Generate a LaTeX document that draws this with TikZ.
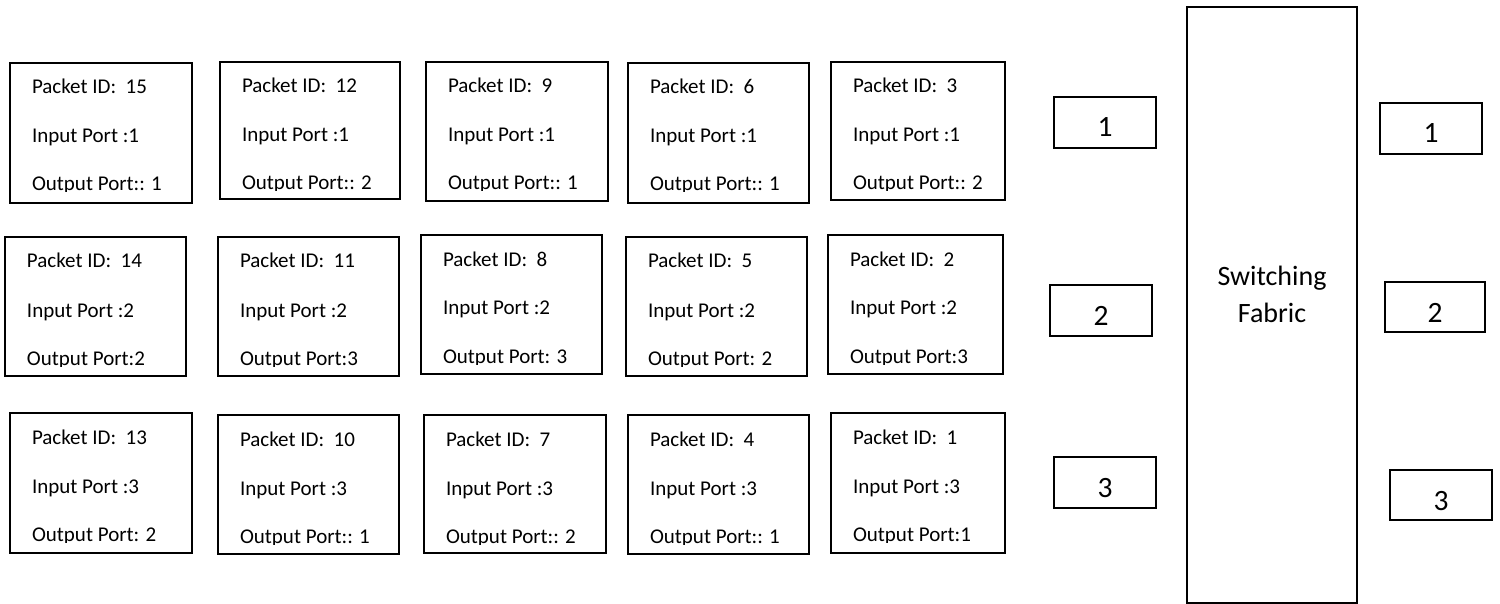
\documentclass[tikz,border=0pt]{standalone}
\usepackage{fontspec}
\setmainfont{Carlito}
\tikzset{
  pktbox/.style={draw, line width=2.8pt, inner sep=0pt, outer sep=0pt, anchor=north west},
  ptext/.style={anchor=base west, inner sep=0pt, outer sep=0pt, font=\fontsize{21}{24}\selectfont},
  ptnum/.style={anchor=base, inner sep=0pt, outer sep=0pt, font=\fontsize{29.5}{34}\selectfont},
  fabtext/.style={anchor=base, inner sep=0pt, outer sep=0pt, font=\fontsize{28}{34}\selectfont},
}
% packet queue entry: name, left, top, width, height, id, input port, output line
\newcommand\packetbox[8]{%
  \node[pktbox, minimum width=#4pt, minimum height=#5pt] (#1) at (#2,#3) {};
  \begin{scope}
    \clip (#2,#3) rectangle ({#2+#4},{#3+129});
    \node[ptext] (#1-id)  at ({#2+22},{#3+31})  {Packet ID:\ \ #6};
    \node[ptext] (#1-in)  at ({#2+22},{#3+80})  {Input Port :#7};
    \node[ptext] (#1-out) at ({#2+22},{#3+128}) {#8};
  \end{scope}}
% port box: name, left, top, width, height, number
\newcommand\portbox[6]{%
  \node[pktbox, minimum width=#4pt, minimum height=#5pt] (#1) at (#2,#3) {};
  \node[ptnum] (#1-t) at ({#2+#4/2},{#3+40}) {#6};}
\begin{document}
\begin{tikzpicture}[x=1pt,y=-1pt]
\useasboundingbox (0,0) rectangle (1500,604);

% input port 1 queue
\packetbox{p15}{10}{63}{182}{140}{15}{1}{Output Port:: 1}
\packetbox{p12}{220}{62}{180}{137}{12}{1}{Output Port:: 2}
\packetbox{p9}{426}{62}{182}{139}{9}{1}{Output Port:: 1}
\packetbox{p6}{628}{63}{181}{140}{6}{1}{Output Port:: 1}
\packetbox{p3}{831}{62}{174}{138}{3}{1}{Output Port:: 2}

% input port 2 queue
\packetbox{p14}{5}{237}{181}{139}{14}{2}{Output Port:2}
\packetbox{p11}{218}{237}{181}{139}{11}{2}{Output Port:3}
\packetbox{p8}{421}{235}{181}{139}{8}{2}{Output Port: 3}
\packetbox{p5}{626}{237}{181}{139}{5}{2}{Output Port: 2}
\packetbox{p2}{828}{235}{175}{139}{2}{2}{Output Port:3}

% input port 3 queue
\packetbox{p13}{10}{413}{182}{140}{13}{3}{Output Port: 2}
\packetbox{p10}{218}{415}{181}{139}{10}{3}{Output Port:: 1}
\packetbox{p7}{424}{415}{182}{138}{7}{3}{Output Port:: 2}
\packetbox{p4}{628}{415}{181}{139}{4}{3}{Output Port:: 1}
\packetbox{p1}{831}{413}{174}{140}{1}{3}{Output Port:1}

% input ports
\portbox{in1}{1054}{97}{102}{51}{1}
\portbox{in2}{1050}{285}{102}{51}{2}
\portbox{in3}{1054}{457}{102}{51}{3}

% switching fabric
\node[pktbox, minimum width=170pt, minimum height=596pt] (fabric) at (1187,7) {};
\node[fabtext] (fabric-l1) at (1272,286) {Switching};
\node[fabtext] (fabric-l2) at (1272,323) {Fabric};

% output ports
\portbox{out1}{1380}{103}{102}{51}{1}
\portbox{out2}{1385}{282}{100}{50}{2}
\portbox{out3}{1390}{470}{102}{50}{3}
\end{tikzpicture}
\end{document}
